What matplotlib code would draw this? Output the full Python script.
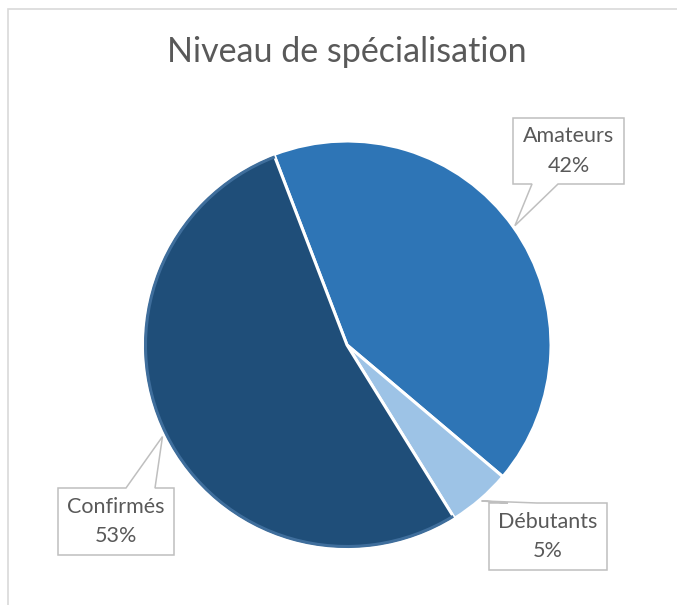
import numpy as np
import matplotlib
matplotlib.use('Agg')
import matplotlib.pyplot as plt
from matplotlib.patches import Arc, Polygon, Rectangle

W, H = 677, 605

# data
labels = ['Amateurs', 'Débutants', 'Confirmés']
values = [42, 5, 53]
colors = ['#2e75b6', '#9dc3e6', '#1f4e79']
title = 'Niveau de spécialisation'

# callout boxes in image pixels: (x0, y0, x1, y1), pointer edge, pointer base x-range
boxes = {
    'Amateurs': ((513, 118, 624, 184), 'bottom', (532, 558)),
    'Débutants': ((489, 503, 607, 570), 'top', (508, 537)),
    'Confirmés': ((58, 488, 174, 555), 'top', (126, 155)),
}

CX, CY, R = 347, 345, 204
TEXT_COLOR = '#595959'
FONT = ['Lato', 'DejaVu Sans']


def fy(y):
    """image row -> axes y (axes run bottom-up)"""
    return H - y


def callout_poly(box, edge, base, tip):
    x0, y0, x1, y1 = box
    bx0, bx1 = base
    if edge == 'bottom':
        pts = [(x0, y0), (x1, y0), (x1, y1), (bx1, y1), tip, (bx0, y1), (x0, y1)]
    else:
        pts = [(x0, y0), (bx0, y0), tip, (bx1, y0), (x1, y0), (x1, y1), (x0, y1)]
    return [(x, fy(y)) for x, y in pts]


fig = plt.figure(figsize=(W / 100, H / 100), dpi=100)
ax = fig.add_axes([0, 0, 1, 1])

wedges, _ = ax.pie(
    values,
    colors=colors,
    startangle=111,
    counterclock=False,
    center=(CX, fy(CY)),
    radius=R,
    wedgeprops=dict(edgecolor='white', linewidth=2.2),
)

# lighter rim on the big slice, like the Excel bevel
conf = wedges[2]
ax.add_patch(Arc((CX, fy(CY)), 2 * (R - 2.5), 2 * (R - 2.5), theta1=conf.theta1, theta2=conf.theta2,
                 color='#3f6e9c', linewidth=2.2, zorder=3))

total = float(sum(values))
for wedge, lab, val in zip(wedges, labels, values):
    mid = np.deg2rad(0.5 * (wedge.theta1 + wedge.theta2))
    tip = (CX + (R + 2) * np.cos(mid), CY - (R + 2) * np.sin(mid))
    box, edge, base = boxes[lab]
    poly = Polygon(callout_poly(box, edge, base, tip), closed=True, facecolor='white',
                   edgecolor='#bfbfbf', linewidth=1.1, zorder=4)
    ax.add_patch(poly)
    tx = 0.5 * (box[0] + box[2])
    ty = 0.5 * (box[1] + box[3])
    ax.text(tx, fy(ty), f"{lab}\n{val / total * 100:.0f}%", ha='center', va='center',
            fontsize=15.5, color=TEXT_COLOR, family=FONT, linespacing=1.6, zorder=5)

ax.text(CX, fy(52), title, ha='center', va='center', fontsize=24.5, color=TEXT_COLOR, family=FONT)

# chart area border (only left and top show in the crop)
ax.add_patch(Rectangle((8, -20), W + 20, fy(9) + 20, fill=False, edgecolor='#d9d9d9',
                       linewidth=1.2, clip_on=False))

ax.set_xlim(0, W)
ax.set_ylim(0, H)
ax.set_aspect('auto')
ax.axis('off')

fig.savefig('out.png', dpi=100)
